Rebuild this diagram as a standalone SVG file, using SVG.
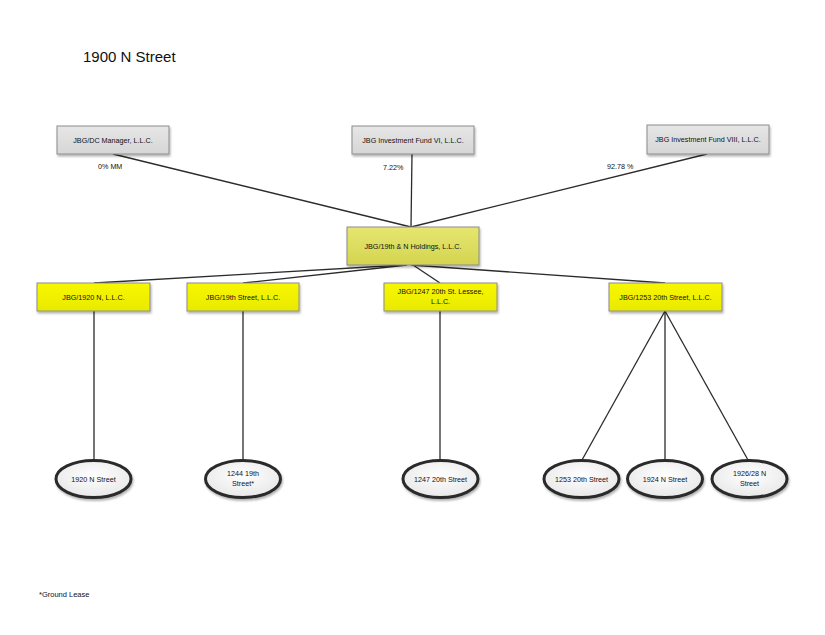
<svg xmlns="http://www.w3.org/2000/svg" width="825" height="635" viewBox="0 0 825 635">
<defs>
<linearGradient id="gGray" x1="0" y1="0" x2="0" y2="1"><stop offset="0" stop-color="#e6e6e6"/><stop offset="1" stop-color="#d6d6d6"/></linearGradient>
<linearGradient id="gYel" x1="0" y1="0" x2="0" y2="1"><stop offset="0" stop-color="#f7f700"/><stop offset="1" stop-color="#e9e900"/></linearGradient>
<linearGradient id="gHold" x1="0" y1="0" x2="0" y2="1"><stop offset="0" stop-color="#e6e670"/><stop offset="1" stop-color="#d4d450"/></linearGradient>
<radialGradient id="gEll" cx="0.5" cy="0.4" r="0.6"><stop offset="0" stop-color="#ffffff"/><stop offset="1" stop-color="#e8e8e8"/></radialGradient>
<filter id="sh" x="-20%" y="-20%" width="140%" height="150%"><feDropShadow dx="1" dy="2" stdDeviation="1" flood-color="#000" flood-opacity="0.3"/></filter>
</defs>
<style>
text{font-family:"Liberation Sans",Arial,sans-serif;fill:#111}
.n{font-size:7.2px;text-anchor:middle}
.lbl{font-size:7.2px}
.gray{fill:url(#gGray);stroke:#8c8c8c;stroke-width:1}
.yel{fill:url(#gYel);stroke:#8c8c8c;stroke-width:1}
.hold{fill:url(#gHold);stroke:#8c8c8c;stroke-width:1}
.ell{fill:url(#gEll);stroke:#2b2b2b;stroke-width:3}
.c{stroke:#2b2b2b;stroke-width:1.3;fill:none}
</style>
<rect width="825" height="635" fill="#fff"/>
<text x="83" y="62" style="font-size:15px">1900 N Street</text>
<g id="connectors">
<line class="c" x1="113" y1="154" x2="411" y2="227"/>
<line class="c" x1="412" y1="154" x2="411" y2="227"/>
<line class="c" x1="707" y1="154" x2="411" y2="227"/>
<line class="c" x1="404" y1="265" x2="94" y2="283"/>
<line class="c" x1="407" y1="265" x2="243" y2="283"/>
<line class="c" x1="413" y1="265" x2="440" y2="283"/>
<line class="c" x1="411" y1="265" x2="665" y2="283"/>
<line class="c" x1="94" y1="311" x2="94" y2="460"/>
<line class="c" x1="243" y1="311" x2="243" y2="460"/>
<line class="c" x1="440" y1="311" x2="440" y2="460"/>
<line class="c" x1="665" y1="311" x2="582" y2="460"/>
<line class="c" x1="665" y1="311" x2="665" y2="460"/>
<line class="c" x1="665" y1="311" x2="748" y2="460"/>
</g>
<text class="lbl" x="98" y="169">0% MM</text>
<text class="lbl" x="383" y="170">7.22%</text>
<text class="lbl" x="607" y="169">92.78 %</text>
<g id="dcmanager"><rect class="gray" filter="url(#sh)" x="57" y="126" width="112" height="28"/><text class="n" x="113" y="142.5">JBG/DC Manager, L.L.C.</text></g>
<g id="fund6"><rect class="gray" filter="url(#sh)" x="352" y="126" width="122" height="28"/><text class="n" x="413" y="142.5">JBG Investment Fund VI, L.L.C.</text></g>
<g id="fund8"><rect class="gray" filter="url(#sh)" x="647" y="125" width="122" height="29"/><text class="n" x="708" y="142">JBG Investment Fund VIII, L.L.C.</text></g>
<g id="holdings"><rect class="hold" filter="url(#sh)" x="347" y="227" width="132" height="38"/><text class="n" x="413" y="248.5">JBG/19th &amp; N Holdings, L.L.C.</text></g>
<g id="n1920"><rect class="yel" filter="url(#sh)" x="37" y="283" width="113" height="28"/><text class="n" x="93.5" y="299.5">JBG/1920 N, L.L.C.</text></g>
<g id="n19th"><rect class="yel" filter="url(#sh)" x="187" y="283" width="112" height="28"/><text class="n" x="243" y="299.5">JBG/19th Street, L.L.C.</text></g>
<g id="n1247"><rect class="yel" filter="url(#sh)" x="384" y="283" width="113" height="28"/><text class="n" x="440.5" y="294">JBG/1247 20th St. Lessee,</text><text class="n" x="440.5" y="304">L.L.C.</text></g>
<g id="n1253"><rect class="yel" filter="url(#sh)" x="609" y="283" width="113" height="28"/><text class="n" x="665.5" y="299.5">JBG/1253 20th Street, L.L.C.</text></g>
<g id="p1920"><ellipse class="ell" filter="url(#sh)" cx="93.5" cy="479" rx="37.5" ry="18.5"/><text class="n" x="93.5" y="481.5">1920 N Street</text></g>
<g id="p1244"><ellipse class="ell" filter="url(#sh)" cx="243" cy="479" rx="37.5" ry="18.5"/><text class="n" x="243" y="476">1244 19th</text><text class="n" x="243" y="486">Street*</text></g>
<g id="p1247"><ellipse class="ell" filter="url(#sh)" cx="440.5" cy="479" rx="37.5" ry="18.5"/><text class="n" x="440.5" y="481.5">1247 20th Street</text></g>
<g id="p1253"><ellipse class="ell" filter="url(#sh)" cx="581.5" cy="479" rx="37.5" ry="18.5"/><text class="n" x="581.5" y="481.5">1253 20th Street</text></g>
<g id="p1924"><ellipse class="ell" filter="url(#sh)" cx="665" cy="479" rx="37.5" ry="18.5"/><text class="n" x="665" y="481.5">1924 N Street</text></g>
<g id="p1926"><ellipse class="ell" filter="url(#sh)" cx="749.5" cy="479" rx="37.5" ry="18.5"/><text class="n" x="749.5" y="476">1926/28 N</text><text class="n" x="749.5" y="486">Street</text></g>
<text x="39" y="597" style="font-size:7.5px">*Ground Lease</text>
</svg>
